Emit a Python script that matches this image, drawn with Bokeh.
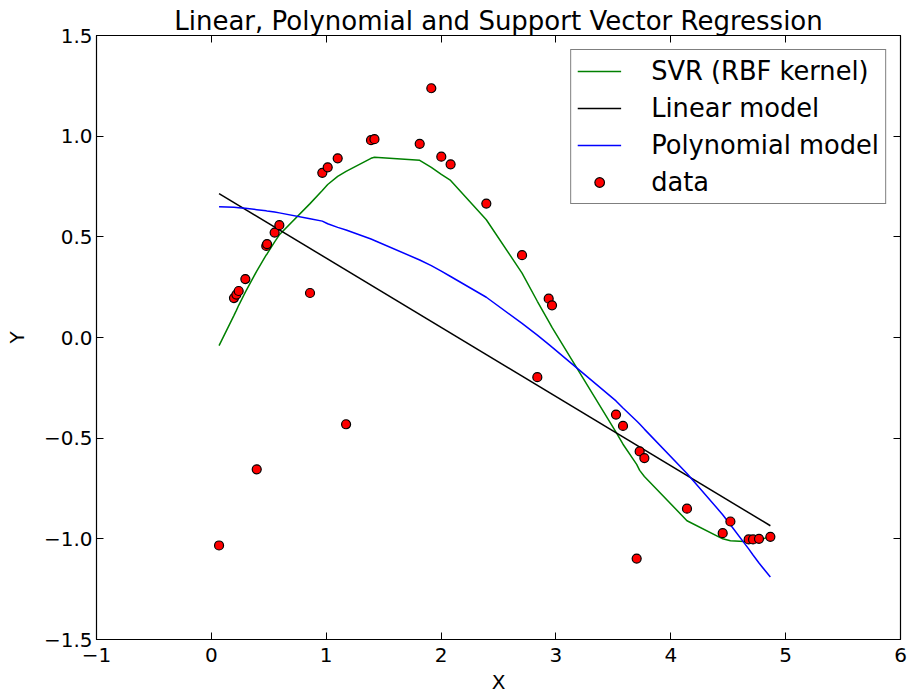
from bokeh.plotting import figure
from bokeh.models import Range1d, LinearAxis, FixedTicker, CustomJSTickFormatter, ColumnDataSource
from bokeh.embed import file_html
from bokeh.resources import INLINE

# ---- data ----
x_data = [0.067, 0.197, 0.218, 0.238, 0.296, 0.395, 0.478, 0.485, 0.551, 0.592,
          0.859, 0.966, 1.013, 1.100, 1.173, 1.390, 1.420, 1.814, 1.915, 2.002,
          2.083, 2.394, 2.705, 2.838, 2.937, 2.966, 3.523, 3.584, 3.703, 3.729,
          3.770, 4.141, 4.452, 4.519, 4.678, 4.716, 4.768, 4.867]
y_data = [-1.033, 0.196, 0.213, 0.231, 0.290, -0.655, 0.455, 0.464, 0.521, 0.558,
          0.221, 0.818, 0.845, 0.890, -0.431, 0.980, 0.985, 0.962, 1.238, 0.898,
          0.860, 0.665, 0.409, -0.197, 0.193, 0.160, -0.383, -0.439, -1.098, -0.566,
          -0.599, -0.850, -0.972, -0.914, -1.003, -1.003, -1.000, -0.990]
y_svr = [-0.04, 0.11, 0.135, 0.16, 0.225, 0.33, 0.41, 0.415, 0.475, 0.51,
         0.665, 0.73, 0.76, 0.80, 0.825, 0.89, 0.895, 0.88, 0.845, 0.81,
         0.78, 0.585, 0.32, 0.18, 0.08, 0.05, -0.47, -0.53, -0.63, -0.66,
         -0.69, -0.91, -1.0, -1.01, -1.015, -1.015, -1.01, -0.985]
y_poly = [0.649, 0.647, 0.646, 0.645, 0.642, 0.635, 0.629, 0.628, 0.623, 0.619,
          0.590, 0.578, 0.565, 0.547, 0.534, 0.489, 0.482, 0.385, 0.357, 0.330,
          0.303, 0.200, 0.070, 0.012, -0.034, -0.048, -0.315, -0.350, -0.415, -0.430,
          -0.455, -0.675, -0.880, -0.930, -1.050, -1.080, -1.120, -1.190]
x_lin = [0.067, 4.867]
y_lin = [0.715, -0.935]

x_ticks = [-1, 0, 1, 2, 3, 4, 5, 6]
y_ticks = [-1.5, -1.0, -0.5, 0.0, 0.5, 1.0, 1.5]

FONT = "DejaVu Sans"

p = figure(width=908, height=696, output_backend="svg", toolbar_location=None,
           x_range=Range1d(-1, 6), y_range=Range1d(-1.5, 1.5),
           min_border_left=96, min_border_right=8, min_border_top=35, min_border_bottom=55,
           title="Linear, Polynomial and Support Vector Regression")
p.background_fill_color = "white"
p.border_fill_color = "white"
p.outline_line_color = "black"
p.outline_line_width = 1.2
p.xgrid.visible = False
p.ygrid.visible = False

p.title.align = "center"
p.title.text_font = FONT
p.title.text_font_size = "26px"
p.title.text_font_style = "normal"
p.title.text_color = "black"
p.title.standoff = 0

xfmt = CustomJSTickFormatter(code="return (tick < 0 ? '\u2212' : '') + Math.abs(tick).toFixed(0);")
yfmt = CustomJSTickFormatter(code="return (tick < 0 ? '\u2212' : '') + Math.abs(tick).toFixed(1);")

for ax, tk, fm in ((p.xaxis[0], x_ticks, xfmt), (p.yaxis[0], y_ticks, yfmt)):
    ax.ticker = FixedTicker(ticks=tk)
    ax.formatter = fm
    ax.major_tick_in = 7
    ax.major_tick_out = 0
    ax.minor_tick_line_color = None
    ax.major_tick_line_color = "black"
    ax.axis_line_color = "black"
    ax.major_label_text_font = FONT
    ax.major_label_text_font_size = "20px"
    ax.major_label_text_color = "black"
    ax.major_label_text_line_height = 1.0
    ax.axis_label_text_font = FONT
    ax.axis_label_text_font_size = "20px"
    ax.axis_label_text_font_style = "normal"
    ax.axis_label_text_color = "black"
    ax.axis_label_text_line_height = 1.0

p.xaxis[0].axis_label = "X"
p.yaxis[0].axis_label = "Y"
p.xaxis[0].major_label_standoff = 8
p.xaxis[0].axis_label_standoff = 5
p.yaxis[0].major_label_standoff = 4
p.yaxis[0].axis_label_standoff = 12

# mirrored ticks on top and right (labels not drawn)
top = LinearAxis(ticker=FixedTicker(ticks=x_ticks), major_tick_in=7, major_tick_out=0,
                 minor_tick_line_color=None, major_label_text_font_size="0px",
                 major_label_text_color=None, major_label_standoff=0, axis_line_color="black")
right = LinearAxis(ticker=FixedTicker(ticks=y_ticks), major_tick_in=7, major_tick_out=0,
                   minor_tick_line_color=None, major_label_text_font_size="0px",
                   major_label_text_color=None, major_label_standoff=0, axis_line_color="black")
p.add_layout(top, "above")
p.add_layout(right, "right")

src = ColumnDataSource(dict(x=x_data, y=y_data, svr=y_svr, poly=y_poly))

p.line("x", "svr", source=src, color="#008000", line_width=1.5, legend_label="SVR (RBF kernel)")
p.line(x_lin, y_lin, color="black", line_width=1.5, legend_label="Linear model")
p.line("x", "poly", source=src, color="#0000ff", line_width=1.5, legend_label="Polynomial model")
p.scatter("x", "y", source=src, size=9, fill_color="#ff0000", line_color="black",
          line_width=1.2, legend_label="data")

lg = p.legend[0]
lg.location = "top_right"
lg.margin = 14
lg.padding = 6
lg.spacing = 7
lg.glyph_width = 44
lg.glyph_height = 24
lg.label_height = 24
lg.label_standoff = 30
lg.label_text_font = FONT
lg.label_text_font_size = "25.7px"
lg.label_text_color = "black"
lg.border_line_color = "black"
lg.border_line_width = 1.2
lg.background_fill_color = "white"
lg.background_fill_alpha = 1.0

open("out.html", "w").write(file_html(p, INLINE))
